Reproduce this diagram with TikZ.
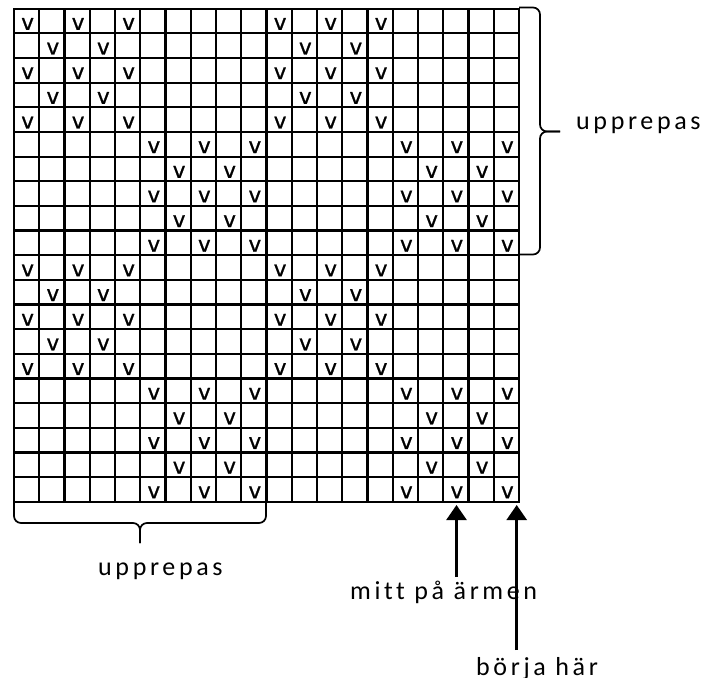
\documentclass[tikz,border=0pt]{standalone}
\usepackage{fontspec}
\setmainfont{Carlito}
\newfontfamily\labfont[LetterSpace=14,Ligatures={NoCommon}]{Carlito}
\newfontfamily\vfont[FakeBold=0.9]{DejaVu Sans}
\usetikzlibrary{arrows.meta}
\newcommand\cw{25.25}
\newcommand\ch{24.65}
\begin{document}
\begin{tikzpicture}[x=1pt,y=-1pt,
  gridline/.style={line width=2.2pt,line cap=rect},
  vmark/.style={inner sep=0pt,anchor=base,font=\vfont\fontsize{21.5}{21.5}\selectfont},
  lab/.style={inner sep=0pt,anchor=base west,font=\labfont\fontsize{26}{26}\selectfont},
  bracestyle/.style={line width=1.7pt,rounded corners=7pt},
  arr/.style={line width=2.5pt,-{Triangle[length=15pt,width=20pt]}}]
\useasboundingbox (0,0) rectangle (714,677);
% grid
\foreach \i in {0,...,20}{
  \draw[gridline] ({14+\i*\cw},8.7) -- ({14+\i*\cw},501.7);
  \draw[gridline] (14,{8.7+\i*\ch}) -- (519,{8.7+\i*\ch});
}
% v marks
\foreach \b in {0,10}{
  \foreach \r in {1,3,5}{\foreach \c in {1,3,5,11,13,15}{
    \pgfmathtruncatemacro\rr{\b+\r}
    \node[vmark] (v\rr-\c) at ({14+(\c-0.5)*\cw+1},{8.7+\rr*\ch-3.5}) {v};}}
  \foreach \r in {2,4}{\foreach \c in {2,4,12,14}{
    \pgfmathtruncatemacro\rr{\b+\r}
    \node[vmark] (v\rr-\c) at ({14+(\c-0.5)*\cw+1},{8.7+\rr*\ch-3.5}) {v};}}
  \foreach \r in {6,8,10}{\foreach \c in {6,8,10,16,18,20}{
    \pgfmathtruncatemacro\rr{\b+\r}
    \node[vmark] (v\rr-\c) at ({14+(\c-0.5)*\cw+1},{8.7+\rr*\ch-3.5}) {v};}}
  \foreach \r in {7,9}{\foreach \c in {7,9,17,19}{
    \pgfmathtruncatemacro\rr{\b+\r}
    \node[vmark] (v\rr-\c) at ({14+(\c-0.5)*\cw+1},{8.7+\rr*\ch-3.5}) {v};}}
}
% right brace
\coordinate (rtip) at (560,131.5);
\draw[bracestyle] (519,7.5) -- (540,7.5) -- (540,131.5) -- (rtip);
\draw[bracestyle] (519,254.5) -- (540,254.5) -- (540,131.5) -- (rtip);
% bottom brace
\coordinate (btip) at (140,543);
\draw[bracestyle] (14,502) -- (14,523) -- (140,523) -- (btip);
\draw[bracestyle] (266,502) -- (266,523) -- (140,523) -- (btip);
% labels
\node[lab] (rep1) at (576,129) {upprepas};
\node[lab] (rep2) at (98,575) {upprepas};
\node[lab] (mitt) at (350,599) {mitt på ärmen};
\node[lab] (borja) at (476,675) {börja här};
% arrows
\coordinate (mittfrom) at (456.5,577);
\coordinate (mittto) at (456.5,505);
\coordinate (borjafrom) at (516.7,650);
\coordinate (borjato) at (516.7,505);
\draw[arr] (mittfrom) -- (mittto);
\draw[arr] (borjafrom) -- (borjato);
\end{tikzpicture}
\end{document}
